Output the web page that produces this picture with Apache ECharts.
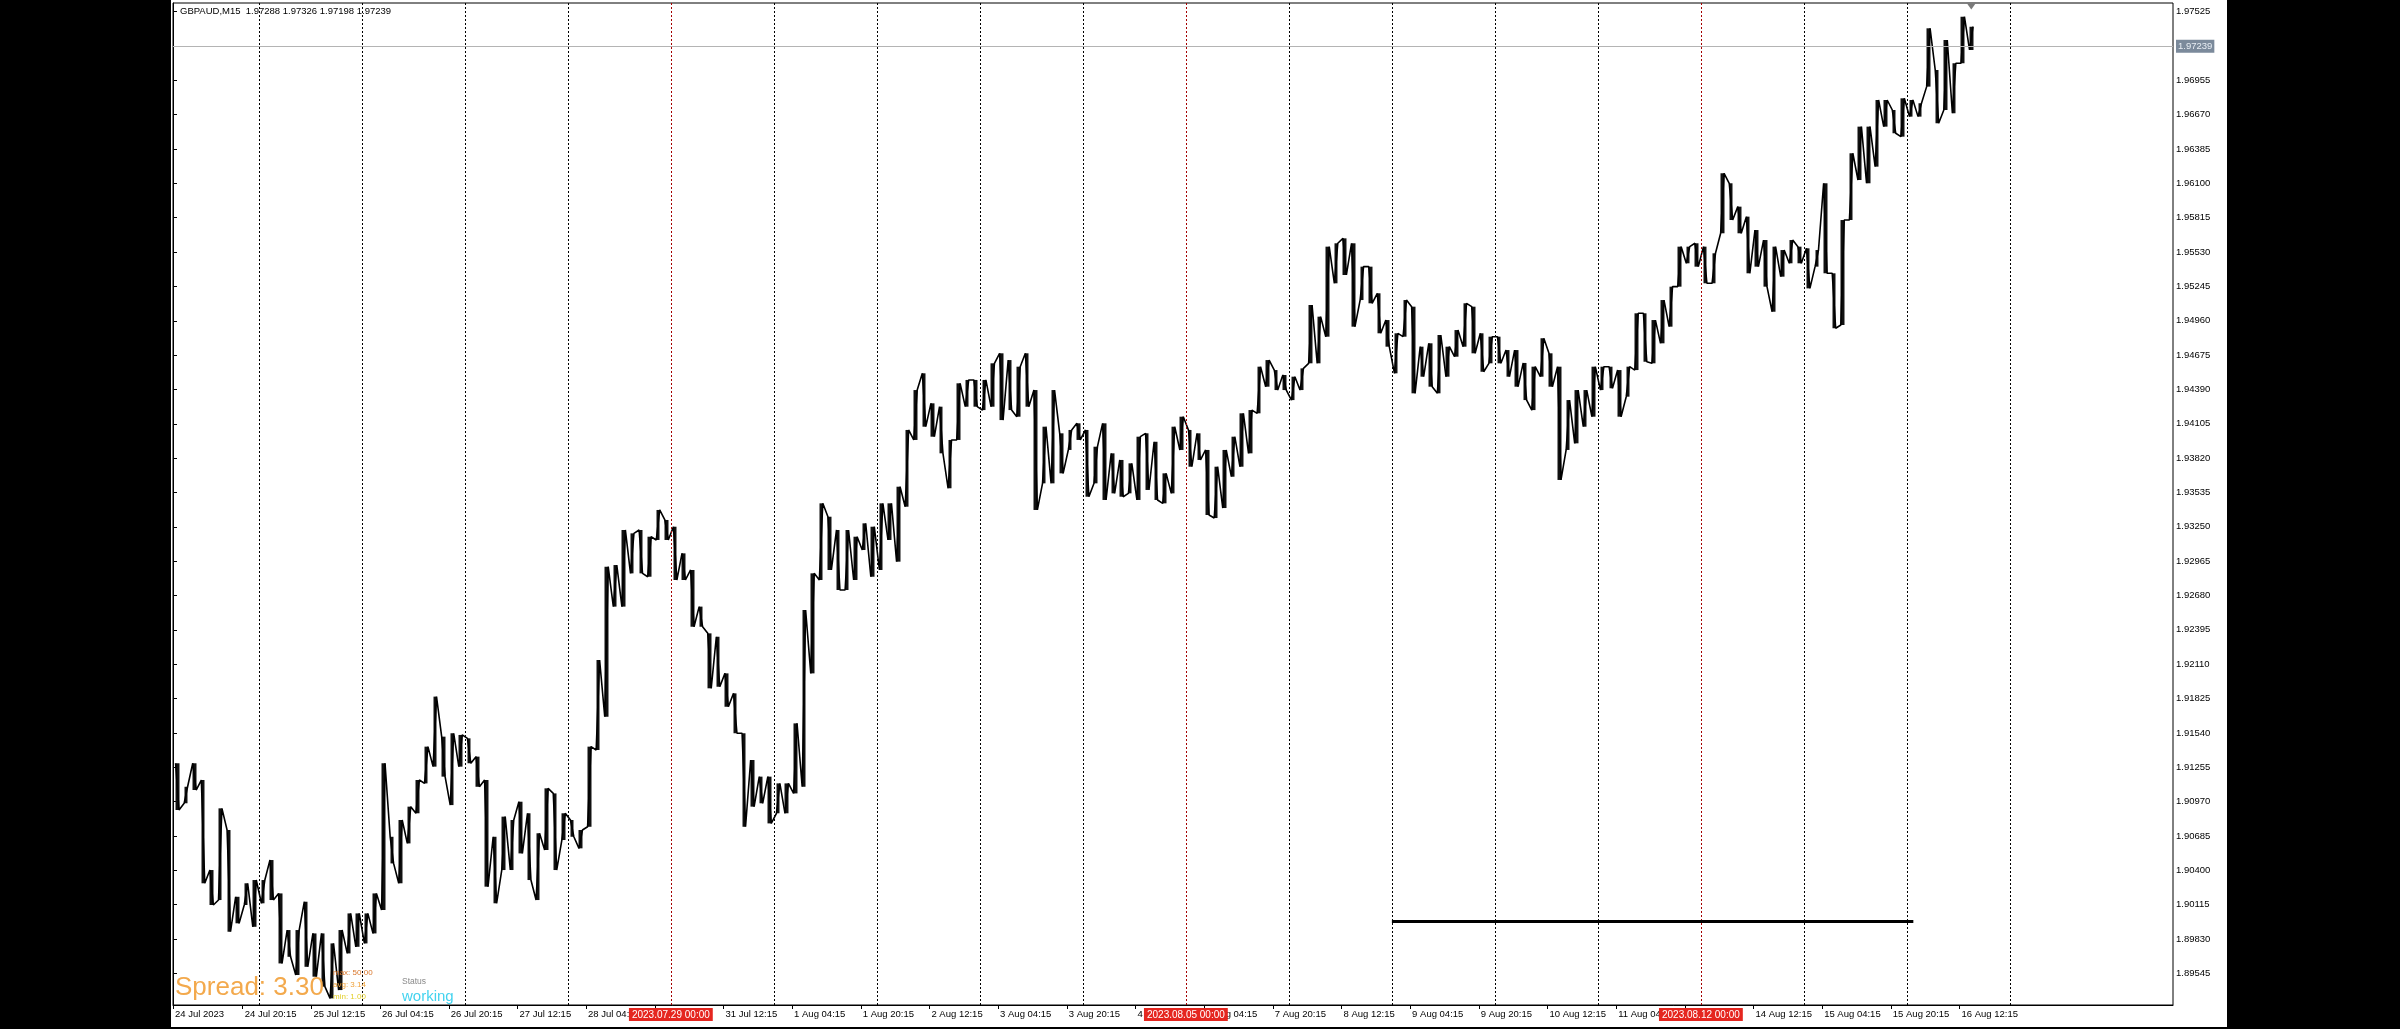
<!DOCTYPE html>
<html><head><meta charset="utf-8">
<script src="https://cdn.jsdelivr.net/npm/echarts@6/dist/echarts.min.js"></script>
<style>html,body{margin:0;padding:0;background:#000;}#c{width:2400px;height:1029px;}</style>
</head><body><div id="c"></div>
<script>
// ---------------- DATA ----------------
const symbolName = 'GBPAUD,M15';
const lastOHLC = ['1.97288', '1.97326', '1.97198', '1.97239'];
const lastPrice = 1.97239;
// trading days shown (17 Aug is the empty shifted area)
const tradingDays = ['24 Jul','25 Jul','26 Jul','27 Jul','28 Jul','31 Jul','1 Aug','2 Aug','3 Aug','4 Aug','7 Aug','8 Aug','9 Aug','10 Aug','11 Aug','14 Aug','15 Aug','16 Aug','17 Aug'];
const firstHour = 4;   // first visible bar: 24 Jul 04:00, values grouped in 2-hour slots
// 2-hour highs
const slotHigh = [
  1.91288,1.91093,1.91288,1.91149,1.90402,1.90914,1.90734,1.90180,1.90292,1.90319,                 // 24 Jul
  1.90319,1.90485,1.90208,1.89904,1.89904,1.90139,1.89876,1.89876,1.89793,1.89904,1.90042,1.90042, // 25 Jul
  1.90042,1.90208,1.91288,1.90678,1.90817,1.90928,1.91149,1.91426,1.91841,1.91509,1.91537,1.91523, // 26 Jul
  1.91495,1.91343,1.91149,1.90678,1.90845,1.90817,1.90969,1.90873,1.90707,1.91080,1.91038,1.90873, // 27 Jul
  1.90817,1.90734,1.91426,1.92145,1.92919,1.92933,1.93224,1.93196,1.93224,1.93168,1.93390,1.93307, // 28 Jul
  1.93251,1.93030,1.92892,1.92588,1.92366,1.92338,1.92034,1.91868,1.91537,1.91315,1.91177,1.91177, // 31 Jul
  1.91121,1.91121,1.91619,1.92560,1.92864,1.93445,1.93334,1.93224,1.93224,1.93168,1.93279,1.93251, // 1 Aug
  1.93445,1.93445,1.93583,1.94054,1.94385,1.94524,1.94275,1.94247,1.93971,1.94441,1.94469,1.94469, // 2 Aug
  1.94469,1.94607,1.94690,1.94634,1.94579,1.94690,1.94385,1.94081,1.94385,1.94026,1.94054,1.94109, // 3 Aug
  1.94054,1.93915,1.94109,1.93860,1.93805,1.93777,1.93998,1.94026,1.93956,1.93694,1.94081,1.94164, // 4 Aug
  1.94054,1.94026,1.93888,1.93749,1.93888,1.93998,1.94192,1.94219,1.94579,1.94634,1.94551,1.94510, // 7 Aug
  1.94496,1.94565,1.95091,1.94994,1.95575,1.95603,1.95644,1.95603,1.95409,1.95409,1.95188,1.94966, // 8 Aug
  1.94856,1.95132,1.95077,1.94745,1.94773,1.94842,1.94745,1.94883,1.95105,1.95077,1.94856,1.94828, // 9 Aug
  1.94828,1.94717,1.94717,1.94610,1.94579,1.94815,1.94690,1.94579,1.94302,1.94385,1.94385,1.94579, // 10 Aug
  1.94579,1.94579,1.94551,1.94579,1.95022,1.95022,1.94966,1.95132,1.95243,1.95575,1.95575,1.95603, // 11 Aug
  1.95575,1.95520,1.96184,1.96101,1.95907,1.95824,1.95713,1.95630,1.95575,1.95547,1.95630,1.95575, // 14 Aug
  1.95561,1.95547,1.96101,1.95354,1.95796,1.96350,1.96571,1.96571,1.96792,1.96792,1.96709,1.96806, // 15 Aug
  1.96792,1.96765,1.97387,1.97041,1.97290,1.97097,1.97483,1.97400                                  // 16 Aug
];
// 2-hour lows
const slotLow = [
  1.90900,1.90956,1.91066,1.90292,1.90112,1.90153,1.89890,1.89960,1.90112,1.89931,
  1.90126,1.90153,1.89627,1.89682,1.89531,1.89599,1.89517,1.89434,1.89337,1.89406,1.89710,1.89765,
  1.89793,1.89876,1.90070,1.90457,1.90292,1.90623,1.90873,1.91121,1.91260,1.91177,1.90941,1.91260,
  1.91288,1.91093,1.90264,1.90126,1.90402,1.90402,1.90540,1.90319,1.90153,1.90568,1.90402,1.90651,
  1.90678,1.90582,1.90761,1.91398,1.91675,1.92588,1.92588,1.92864,1.92864,1.92836,1.93141,1.93141,
  1.92809,1.92809,1.92421,1.92421,1.91910,1.91923,1.91757,1.91537,1.90761,1.90928,1.90956,1.90789,
  1.90873,1.90873,1.91038,1.91093,1.92034,1.92809,1.92892,1.92726,1.92726,1.92809,1.93058,1.92836,
  1.92892,1.93141,1.92961,1.93417,1.93971,1.94081,1.93998,1.93860,1.93570,1.93971,1.94247,1.94247,
  1.94219,1.94247,1.94136,1.94219,1.94164,1.94247,1.93390,1.93611,1.93611,1.93694,1.93888,1.93971,
  1.93500,1.93611,1.93473,1.93528,1.93500,1.93528,1.93473,1.93556,1.93473,1.93445,1.93528,1.93888,
  1.93749,1.93805,1.93348,1.93323,1.93406,1.93666,1.93749,1.93860,1.94192,1.94413,1.94385,1.94385,
  1.94302,1.94385,1.94607,1.94607,1.94828,1.95271,1.95340,1.94911,1.95132,1.95105,1.94856,1.94745,
  1.94524,1.94828,1.94358,1.94496,1.94413,1.94358,1.94496,1.94662,1.94745,1.94690,1.94537,1.94607,
  1.94607,1.94496,1.94413,1.94302,1.94219,1.94496,1.94413,1.93639,1.93888,1.93943,1.94081,1.94164,
  1.94385,1.94400,1.94164,1.94330,1.94551,1.94620,1.94607,1.94773,1.94911,1.95243,1.95437,1.95409,
  1.95271,1.95271,1.95686,1.95796,1.95686,1.95354,1.95409,1.95243,1.95035,1.95326,1.95437,1.95437,
  1.95229,1.95409,1.95354,1.94898,1.94925,1.95796,1.96128,1.96101,1.96239,1.96571,1.96516,1.96488,
  1.96654,1.96654,1.96903,1.96599,1.96709,1.96682,1.97097,1.97207
];
const priceTicks = [1.97525,1.96955,1.96670,1.96385,1.96100,1.95815,1.95530,1.95245,1.94960,1.94675,1.94390,1.94105,1.93820,1.93535,1.93250,1.92965,1.92680,1.92395,1.92110,1.91825,1.91540,1.91255,1.90970,1.90685,1.90400,1.90115,1.89830,1.89545];
const priceMin = 1.89282, priceMax = 1.97597;
const firstLabelText = '24 Jul 2023';
const timeLabels = ['24 Jul 20:15','25 Jul 12:15','26 Jul 04:15','26 Jul 20:15','27 Jul 12:15','28 Jul 04:15','28 Jul 20:15','31 Jul 12:15','1 Aug 04:15','1 Aug 20:15','2 Aug 12:15','3 Aug 04:15','3 Aug 20:15','4 Aug 12:15','7 Aug 04:15','7 Aug 20:15','8 Aug 12:15','9 Aug 04:15','9 Aug 20:15','10 Aug 12:15','11 Aug 04:15','11 Aug 20:15','14 Aug 12:15','15 Aug 04:15','15 Aug 20:15','16 Aug 12:15'];
const weekLines = ['2023.07.29 00:00','2023.08.05 00:00','2023.08.12 00:00'];
const trendLine = {from: '9 Aug 00:00', to: '16 Aug 01:30', price: 1.89979};
const spreadInfo = {spread: '3.30', max: '50.00', avg: '3.14', min: '1.00', status: 'working'};

// ---------------- HELPERS ----------------
const slotsTotal = 233;
function timeToValue(s) {
  const p = s.split(' ');
  const n = tradingDays.indexOf(p[0] + ' ' + p[1]);
  const hm = p[2].split(':').map(Number);
  return 12 * n - firstHour / 2 + (hm[0] + hm[1] / 60) / 2;
}
const MONTHS = {Jul: 7, Aug: 8};
function weekLineValue(s) {
  const d = s.split(' ')[0].split('.').map(Number);
  for (let n = 0; n < tradingDays.length; n++) {
    const [dd, mm] = tradingDays[n].split(' ');
    const m = MONTHS[mm], day = +dd;
    if (m > d[1] || (m === d[1] && day >= d[2])) return 12 * n - firstHour / 2;
  }
}
const labelVals = [timeToValue(tradingDays[0] + ' ' + String(firstHour).padStart(2,'0') + ':00')];
const labelText = {};
labelText[labelVals[0].toFixed(3)] = firstLabelText;
timeLabels.forEach(t => { const v = timeToValue(t); labelVals.push(v); labelText[v.toFixed(3)] = t; });

// price path: each 2-hour slot visits its low and its high (order follows the local trend)
const mid = i => (slotHigh[i] + slotLow[i]) / 2;
const pathData = [];
slotHigh.forEach((h, i) => {
  const prev = mid(Math.max(0, i - 1)), next = mid(Math.min(slotHigh.length - 1, i + 1));
  const up = next >= prev;
  const a = up ? slotLow[i] : h, b = up ? h : slotLow[i];
  pathData.push([i + 0.3, a], [i + 0.7, b]);
});
const rangeData = slotHigh.map((h, i) => [i + 0.5, slotLow[i], h, slotLow[i], h]);

const redVals = weekLines.map(weekLineValue);
const FONT = 'Liberation Sans, Arial, sans-serif';
const markLines = [];
for (let n = 1; n < tradingDays.length; n++) {
  const v = 12 * n - firstHour / 2;
  if (redVals.some(r => Math.abs(r - v) < 1e-6)) continue;
  markLines.push({xAxis: v, lineStyle: {color: '#000', type: [2, 2], width: 1}, label: {show: false}});
}
weekLines.forEach((w, k) => {
  markLines.push({xAxis: redVals[k], lineStyle: {color: '#a40000', type: [2, 2], width: 1},
    label: {show: true, position: 'start', formatter: w, distance: 3, color: '#fff', backgroundColor: '#e5261f',
      padding: [2, 3, 1, 3], fontSize: 10, fontFamily: FONT}});
});
markLines.push({yAxis: lastPrice, lineStyle: {color: '#b4b4b4', type: 'solid', width: 1},
  label: {show: true, position: 'end', formatter: lastPrice.toFixed(5), distance: 3, color: '#e8eef4', backgroundColor: '#7b8a9b',
    padding: [2, 2, 1, 2], fontSize: 9.5, fontFamily: FONT}});
markLines.push([{coord: [timeToValue(trendLine.from), trendLine.price], lineStyle: {color: '#000', width: 3, type: 'solid'}, label: {show: false}},
                {coord: [timeToValue(trendLine.to), trendLine.price]}]);

const chart = echarts.init(document.getElementById('c'));
chart.setOption({
  animation: false,
  backgroundColor: '#000',
  grid: {left: 173, right: 227, top: 3, bottom: 24, show: true, backgroundColor: '#fff', borderColor: '#000', borderWidth: 1},
  xAxis: {
    type: 'value', min: 0, max: slotsTotal,
    axisLine: {show: true, lineStyle: {color: '#000', width: 1}},
    axisTick: {show: true, customValues: labelVals, length: 4, lineStyle: {color: '#000'}},
    axisLabel: {show: true, customValues: labelVals, align: 'left', margin: 4, padding: [0, 0, 0, 2],
      color: '#000', fontSize: 9.5, fontFamily: FONT,
      formatter: v => labelText[v.toFixed(3)] || ''},
    splitLine: {show: false}
  },
  yAxis: {
    type: 'value', position: 'right', min: priceMin, max: priceMax, scale: true,
    axisLine: {show: true, lineStyle: {color: '#000', width: 1}},
    axisTick: {show: true, customValues: priceTicks, length: 4, lineStyle: {color: '#000'}},
    axisLabel: {show: true, customValues: priceTicks, margin: 3, color: '#000', fontSize: 9.5, fontFamily: FONT,
      formatter: v => v.toFixed(5)},
    splitLine: {show: false}
  },
  graphic: {elements: [
    {type: 'rect', z: -100, silent: true, shape: {x: 171, y: 0, width: 2056, height: 1027}, style: {fill: '#fff'}},
    {type: 'text', z: 100, left: 180, top: 6, style: {text: symbolName + '  ' + lastOHLC.join(' '), fill: '#000', font: '9.5px ' + FONT}},
    {type: 'text', z: 100, left: 175, top: 975, style: {text: 'Spread: ' + spreadInfo.spread, fill: '#f3a94c', font: '26px ' + FONT}},
    {type: 'text', z: 100, left: 333, top: 969, style: {text: 'max: ' + spreadInfo.max, fill: '#d9762b', font: '8px ' + FONT}},
    {type: 'text', z: 100, left: 333, top: 981, style: {text: 'avg: ' + spreadInfo.avg, fill: '#f0a23a', font: '8px ' + FONT}},
    {type: 'text', z: 100, left: 333, top: 993, style: {text: 'min: ' + spreadInfo.min, fill: '#e3cf2a', font: '8px ' + FONT}},
    {type: 'text', z: 100, left: 402, top: 977, style: {text: 'Status', fill: '#8a8a8a', font: '8.5px ' + FONT}},
    {type: 'text', z: 100, left: 402, top: 989, style: {text: spreadInfo.status, fill: '#43d3ef', font: '15px ' + FONT}}
  ]},
  series: [{
    type: 'candlestick',
    data: rangeData,
    encode: {x: 0, y: [1, 2, 3, 4]},
    barWidth: 4,
    z: 2,
    itemStyle: {color: '#111', color0: '#111', borderColor: '#111', borderColor0: '#111', borderWidth: 0}
  }, {
    type: 'line',
    data: pathData,
    showSymbol: false,
    symbol: 'none',
    sampling: false,
    lineStyle: {color: '#000', width: 1.6},
    z: 3,
    markLine: {silent: true, symbol: ['none', 'none'], precision: 6, animation: false, data: markLines},
    markPoint: {silent: true, animation: false, data: [{coord: [slotHigh.length - 0.5, priceMax], symbol: 'triangle', symbolRotate: 180,
      symbolSize: [10, 7], symbolOffset: [0, 3], itemStyle: {color: '#7a7a7a'}, label: {show: false}}]}
  }]
});
</script></body></html>
